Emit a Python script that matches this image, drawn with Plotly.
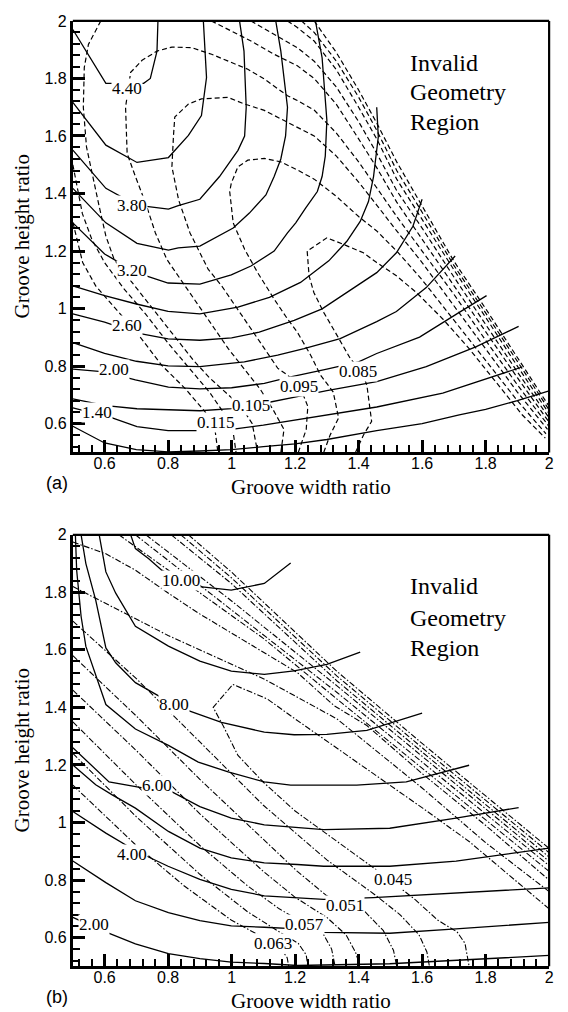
import plotly.graph_objects as go

# ---------------- Panel (a) data ----------------
a_solid_levels = ["4.40", "4.10", "3.80", "3.50", "3.20", "2.90", "2.60", "2.30", "2.00", "1.70", "1.40", "1.10"]
a_solid_x = [
    [0.5, 0.604, 0.723, 0.744, 0.765, 0.768],
    [0.5, 0.604, 0.702, 0.801, 0.864, 0.905, 0.921, 0.911],
    [0.5, 0.604, 0.70, 0.801, 0.832, 0.9, 0.962, 1.02, 1.041, 1.046, 1.039, 1.025],
    [0.5, 0.604, 0.702, 0.801, 0.832, 0.9, 1.005, 1.056, 1.108, 1.134, 1.155, 1.17, 1.176, 1.155, 1.139],
    [0.5, 0.6, 0.7, 0.8, 0.9, 0.999, 1.061, 1.134, 1.176, 1.202, 1.233, 1.27, 1.285, 1.295, 1.30, 1.285, 1.264],
    [0.5, 0.6, 0.7, 0.8, 0.9, 1.02, 1.119, 1.217, 1.306, 1.363, 1.405, 1.431, 1.447, 1.462, 1.457],
    [0.5, 0.6, 0.7, 0.8, 0.9, 1.0, 1.087, 1.197, 1.285, 1.373, 1.457, 1.519, 1.571, 1.60],
    [0.5, 0.6, 0.7, 0.8, 0.9, 1.04, 1.145, 1.228, 1.342, 1.457, 1.519, 1.613, 1.704],
    [0.5, 0.6, 0.697, 0.801, 0.9, 1.0, 1.103, 1.186, 1.30, 1.40, 1.457, 1.592, 1.717, 1.803],
    [0.5, 0.604, 0.702, 0.8, 0.9, 1.0, 1.103, 1.207, 1.30, 1.457, 1.613, 1.769, 1.904],
    [0.5, 0.624, 0.702, 0.8, 0.9, 1.0, 1.1, 1.2, 1.3, 1.457, 1.665, 1.915],
    [0.5, 0.6, 0.7, 0.8, 0.9, 1.0, 1.1, 1.2, 1.3, 1.457, 1.6, 1.717, 1.8, 1.9, 2.0],
]
a_solid_y = [
    [1.97, 1.783, 1.783, 1.80, 1.895, 2.0],
    [1.717, 1.568, 1.508, 1.525, 1.602, 1.671, 1.803, 2.0],
    [1.551, 1.418, 1.36, 1.346, 1.358, 1.38, 1.459, 1.55, 1.60, 1.70, 1.895, 2.0],
    [1.418, 1.298, 1.227, 1.203, 1.211, 1.217, 1.28, 1.332, 1.395, 1.459, 1.52, 1.60, 1.70, 1.895, 2.0],
    [1.298, 1.19, 1.125, 1.089, 1.085, 1.117, 1.148, 1.2, 1.263, 1.298, 1.349, 1.407, 1.459, 1.53, 1.655, 1.872, 2.0],
    [1.079, 1.045, 1.016, 0.99, 0.982, 1.005, 1.039, 1.091, 1.166, 1.234, 1.303, 1.372, 1.459, 1.597, 1.70],
    [0.982, 0.953, 0.916, 0.895, 0.89, 0.898, 0.918, 0.959, 0.999, 1.062, 1.125, 1.194, 1.286, 1.38],
    [0.882, 0.844, 0.817, 0.801, 0.798, 0.815, 0.838, 0.861, 0.896, 0.955, 0.99, 1.073, 1.183],
    [0.79, 0.78, 0.752, 0.727, 0.721, 0.725, 0.74, 0.763, 0.79, 0.815, 0.844, 0.901, 0.987, 1.045],
    [0.686, 0.663, 0.652, 0.648, 0.645, 0.652, 0.671, 0.694, 0.715, 0.746, 0.798, 0.867, 0.938],
    [0.655, 0.62, 0.59, 0.576, 0.576, 0.58, 0.595, 0.613, 0.63, 0.658, 0.706, 0.797],
    [0.591, 0.533, 0.51, 0.502, 0.505, 0.51, 0.52, 0.53, 0.545, 0.576, 0.60, 0.631, 0.65, 0.68, 0.714],
]
a_solid_label_text = ["4.40", "3.80", "3.20", "2.60", "2.00", "1.40"]
a_solid_label_x = [0.67, 0.686, 0.687, 0.67, 0.63, 0.575]
a_solid_label_y = [1.766, 1.359, 1.131, 0.941, 0.787, 0.638]

a_dash_levels = ["0.115", "0.110", "0.105", "0.105", "0.110", "0.115", "0.120", "0.125",
                 "0.100", "0.095", "0.090", "0.085"]
a_dash_x = [
    [0.5, 0.531, 0.572, 0.635, 0.708, 0.78, 0.853, 0.916, 0.947, 0.957],
    [0.5, 0.53, 0.56, 0.60, 0.66, 0.73, 0.80, 0.87, 0.93, 0.98, 1.005, 1.014],
    [0.588, 0.549, 0.536, 0.533, 0.543, 0.562, 0.583, 0.604, 0.63, 0.68, 0.73, 0.78, 0.83, 0.88, 0.93, 0.98, 1.03, 1.065, 1.082],
    [0.936, 0.999, 1.061, 1.134, 1.207, 1.26, 1.33, 1.40, 1.457, 1.52, 1.60, 1.70, 1.80, 1.90, 2.0],
    [1.061, 1.134, 1.207, 1.26, 1.33, 1.40, 1.457, 1.52, 1.60, 1.70, 1.80, 1.90, 2.0],
    [1.176, 1.207, 1.26, 1.33, 1.40, 1.457, 1.52, 1.60, 1.70, 1.80, 1.90, 2.0],
    [1.22, 1.26, 1.33, 1.40, 1.457, 1.52, 1.60, 1.70, 1.80, 1.90, 2.0],
    [1.26, 1.33, 1.40, 1.457, 1.52, 1.60, 1.70, 1.80, 1.90, 2.0],
    [1.155, 1.165, 1.13, 1.09, 1.04, 0.99, 0.94, 0.89, 0.84, 0.796, 0.76, 0.729, 0.697, 0.671, 0.666, 0.682, 0.718, 0.765,
     0.812, 0.874, 0.937, 0.999, 1.051, 1.103, 1.176, 1.207, 1.26, 1.33, 1.40, 1.457, 1.52, 1.60, 1.70, 1.80, 1.90, 2.0],
    [1.21, 1.235, 1.24, 1.215, 1.176, 1.145, 1.103, 1.061, 1.02, 0.968, 0.926, 0.895, 0.869, 0.833, 0.812, 0.817, 0.821,
     0.864, 0.905, 0.989, 1.041, 1.103, 1.166, 1.207, 1.26, 1.33, 1.40, 1.457, 1.52, 1.60, 1.70, 1.80, 1.90, 1.995],
    [1.29, 1.31, 1.337, 1.32, 1.28, 1.249, 1.207, 1.176, 1.134, 1.082, 1.041, 1.005, 0.994, 0.999, 1.02, 1.051, 1.103,
     1.155, 1.207, 1.26, 1.33, 1.40, 1.457, 1.52, 1.60, 1.70, 1.80, 1.90, 1.99],
    [1.39, 1.415, 1.441, 1.426, 1.41, 1.374, 1.332, 1.29, 1.259, 1.244, 1.238, 1.30, 1.353, 1.415, 1.457, 1.519, 1.582,
     1.665, 1.748, 1.832, 1.915, 1.988],
]
a_dash_y = [
    [1.30, 1.16, 1.079, 0.999, 0.907, 0.803, 0.723, 0.642, 0.585, 0.5],
    [1.50, 1.33, 1.24, 1.16, 1.07, 0.98, 0.88, 0.79, 0.71, 0.63, 0.57, 0.5],
    [2.0, 1.918, 1.838, 1.70, 1.562, 1.459, 1.355, 1.252, 1.171, 1.10, 1.03, 0.96, 0.89, 0.82, 0.76, 0.71, 0.66, 0.60, 0.5],
    [2.0, 1.965, 1.93, 1.884, 1.844, 1.80, 1.71, 1.59, 1.49, 1.37, 1.24, 1.08, 0.92, 0.76, 0.605],
    [2.0, 1.953, 1.907, 1.86, 1.77, 1.65, 1.54, 1.41, 1.28, 1.11, 0.945, 0.78, 0.62],
    [2.0, 1.977, 1.93, 1.83, 1.70, 1.59, 1.45, 1.31, 1.135, 0.97, 0.80, 0.635],
    [2.0, 1.96, 1.86, 1.735, 1.62, 1.48, 1.335, 1.15, 0.985, 0.815, 0.648],
    [2.0, 1.89, 1.76, 1.645, 1.51, 1.355, 1.165, 1.0, 0.83, 0.66],
    [0.5, 0.58, 0.65, 0.72, 0.79, 0.86, 0.94, 1.02, 1.10, 1.171, 1.263, 1.367, 1.459, 1.539, 1.70, 1.821, 1.863, 1.895,
     1.909, 1.907, 1.884, 1.855, 1.832, 1.798, 1.74, 1.723, 1.69, 1.61, 1.51, 1.42, 1.32, 1.20, 1.05, 0.89, 0.735, 0.59],
    [0.5, 0.58, 0.66, 0.73, 0.769, 0.793, 0.862, 0.93, 0.999, 1.08, 1.137, 1.206, 1.263, 1.378, 1.493, 1.602, 1.666,
     1.711, 1.729, 1.734, 1.711, 1.689, 1.654, 1.631, 1.60, 1.53, 1.44, 1.36, 1.27, 1.16, 1.01, 0.86, 0.71, 0.58],
    [0.5, 0.56, 0.62, 0.71, 0.769, 0.838, 0.918, 0.964, 1.033, 1.125, 1.206, 1.298, 1.407, 1.436, 1.493, 1.516, 1.522,
     1.51, 1.482, 1.45, 1.39, 1.32, 1.27, 1.20, 1.10, 0.96, 0.82, 0.68, 0.565],
    [0.5, 0.56, 0.608, 0.734, 0.78, 0.826, 0.907, 0.987, 1.056, 1.114, 1.2, 1.246, 1.223, 1.194, 1.16, 1.114, 1.056,
     0.964, 0.861, 0.746, 0.631, 0.55],
]
a_dash_label_text = ["0.115", "0.105", "0.095", "0.085"]
a_dash_label_x = [0.951, 1.061, 1.212, 1.397]
a_dash_label_y = [0.603, 0.663, 0.729, 0.78]

# ---------------- Panel (b) data ----------------
b_solid_levels = ["10.00", "9.00", "8.00", "7.00", "6.00", "5.00", "4.00", "3.00", "2.00"]
b_solid_x = [
    [0.682, 0.697, 0.739, 0.78, 0.84, 0.9, 0.999, 1.103, 1.186],
    [0.583, 0.604, 0.635, 0.697, 0.801, 0.9, 0.999, 1.103, 1.197, 1.30, 1.405],
    [0.526, 0.541, 0.572, 0.604, 0.635, 0.697, 0.77, 0.864, 0.968, 1.103, 1.197, 1.30, 1.426, 1.60],
    [0.508, 0.512, 0.526, 0.541, 0.604, 0.697, 0.801, 0.895, 0.989, 1.103, 1.186, 1.394, 1.55, 1.748],
    [0.5, 0.614, 0.72, 0.811, 0.9, 0.999, 1.103, 1.207, 1.29, 1.498, 1.707, 1.904],
    [0.5, 0.572, 0.624, 0.697, 0.801, 0.9, 0.999, 1.103, 1.207, 1.29, 1.498, 1.707, 2.0],
    [0.5, 0.604, 0.7, 0.8, 0.9, 0.999, 1.103, 1.207, 1.29, 1.446, 1.707, 2.0],
    [0.5, 0.604, 0.697, 0.801, 0.9, 0.999, 1.103, 1.207, 1.29, 1.498, 1.707, 2.0],
    [0.5, 0.593, 0.697, 0.801, 0.9, 0.999, 1.103, 1.207, 1.498, 1.707, 2.0],
]
b_solid_y = [
    [2.0, 1.952, 1.917, 1.877, 1.84, 1.82, 1.808, 1.831, 1.902],
    [2.0, 1.871, 1.797, 1.682, 1.613, 1.561, 1.526, 1.515, 1.527, 1.55, 1.592],
    [2.0, 1.90, 1.773, 1.607, 1.555, 1.486, 1.44, 1.389, 1.348, 1.314, 1.305, 1.306, 1.32, 1.38],
    [2.0, 1.877, 1.716, 1.612, 1.41, 1.325, 1.268, 1.21, 1.176, 1.141, 1.13, 1.13, 1.141, 1.199],
    [1.26, 1.141, 1.12, 1.107, 1.055, 1.015, 0.992, 0.983, 0.975, 0.98, 1.015, 1.052],
    [1.2, 1.131, 1.096, 1.05, 0.969, 0.911, 0.877, 0.86, 0.854, 0.848, 0.848, 0.866, 0.911],
    [1.038, 0.963, 0.90, 0.848, 0.802, 0.768, 0.745, 0.739, 0.733, 0.739, 0.756, 0.773],
    [0.866, 0.791, 0.728, 0.687, 0.659, 0.641, 0.636, 0.63, 0.618, 0.615, 0.63, 0.653],
    [0.67, 0.624, 0.578, 0.544, 0.527, 0.515, 0.51, 0.503, 0.509, 0.52, 0.538],
]
b_solid_label_text = ["10.00", "8.00", "6.00", "4.00", "2.00"]
b_solid_label_x = [0.84, 0.817, 0.764, 0.687, 0.567]
b_solid_label_y = [1.842, 1.411, 1.13, 0.889, 0.647]

b_dash_levels = ["0.045", "0.048", "0.051", "0.054", "0.057", "0.060", "0.063",
                 "0.048", "0.051", "0.054", "0.057", "0.060", "0.063", "0.066", "0.069"]
b_dash_x = [
    [2.0, 1.821, 1.748, 1.603, 1.467, 1.332, 1.20, 1.113, 1.004, 0.942, 0.973, 1.02, 1.10, 1.20, 1.30, 1.40, 1.50, 1.58, 1.65, 1.71, 1.735, 1.748],
    [0.5, 0.7, 0.9, 1.1, 1.3, 1.45, 1.53, 1.59, 1.615, 1.623],
    [0.5, 0.7, 0.9, 1.1, 1.207, 1.30, 1.42, 1.478, 1.51, 1.52],
    [0.5, 0.7, 0.9, 1.1, 1.2, 1.3, 1.36, 1.39, 1.405],
    [0.5, 0.7, 0.9, 1.05, 1.15, 1.23, 1.29, 1.315, 1.326],
    [0.5, 0.7, 0.9, 1.05, 1.15, 1.21, 1.235, 1.24],
    [0.5, 0.7, 0.85, 1.0, 1.10, 1.15, 1.175, 1.18],
    [0.5, 0.8, 1.1, 1.332, 1.6, 1.8, 2.0],
    [0.5, 0.604, 0.697, 0.801, 0.895, 0.999, 1.103, 1.207, 1.323, 1.426, 1.6, 1.8, 2.0],
    [0.645, 0.9, 1.1, 1.332, 1.6, 1.8, 2.0],
    [0.697, 1.0, 1.332, 1.6, 2.0],
    [0.73, 1.0, 1.332, 1.6, 2.0],
    [0.81, 1.0, 1.332, 1.6, 2.0],
    [0.84, 1.0, 1.332, 1.6, 2.0],
    [0.864, 1.0, 1.332, 1.6, 2.0],
]
b_dash_y = [
    [0.70, 0.866, 0.934, 1.049, 1.153, 1.256, 1.36, 1.429, 1.48, 1.40, 1.337, 1.233, 1.14, 1.04, 0.96, 0.88, 0.80, 0.73, 0.66, 0.62, 0.58, 0.5],
    [1.70, 1.50, 1.28, 1.06, 0.87, 0.75, 0.68, 0.61, 0.55, 0.5],
    [1.58, 1.37, 1.15, 0.94, 0.83, 0.745, 0.69, 0.624, 0.555, 0.5],
    [1.46, 1.25, 1.03, 0.83, 0.74, 0.67, 0.61, 0.55, 0.5],
    [1.35, 1.13, 0.92, 0.78, 0.70, 0.65, 0.61, 0.56, 0.5],
    [1.24, 1.02, 0.82, 0.69, 0.62, 0.58, 0.54, 0.5],
    [1.13, 0.92, 0.78, 0.66, 0.60, 0.57, 0.53, 0.5],
    [1.82, 1.65, 1.50, 1.36, 1.12, 0.93, 0.76],
    [1.975, 1.934, 1.877, 1.797, 1.728, 1.659, 1.59, 1.521, 1.406, 1.337, 1.17, 0.99, 0.80],
    [2.0, 1.80, 1.64, 1.429, 1.19, 1.01, 0.83],
    [2.0, 1.74, 1.452, 1.21, 0.85],
    [2.0, 1.77, 1.475, 1.23, 0.865],
    [2.0, 1.83, 1.492, 1.245, 0.88],
    [2.0, 1.85, 1.509, 1.26, 0.895],
    [2.0, 1.87, 1.525, 1.275, 0.91],
]
b_dash_label_text = ["0.063", "0.057", "0.051", "0.045"]
b_dash_label_x = [1.129, 1.228, 1.358, 1.509]
b_dash_label_y = [0.578, 0.647, 0.71, 0.802]

x_tickvals = [0.6, 0.8, 1.0, 1.2, 1.4, 1.6, 1.8, 2.0]
x_ticktext = ["0.6", "0.8", "1", "1.2", "1.4", "1.6", "1.8", "2"]
y_tickvals = [0.6, 0.8, 1.0, 1.2, 1.4, 1.6, 1.8, 2.0]
y_ticktext = ["0.6", "0.8", "1", "1.2", "1.4", "1.6", "1.8", "2"]

# ---------------- Figure ----------------
fig = go.Figure()

SOLID = dict(color="black", width=1.3)
DASH = dict(color="black", width=1.2, dash="5px,3px")
DASHDOT = dict(color="black", width=1.1, dash="6px,2px,1.5px,2px")


def add_lines(xs_list, ys_list, names, line, xa, ya):
    for xs, ys, nm in zip(xs_list, ys_list, names):
        fig.add_trace(go.Scatter(x=xs, y=ys, mode="lines", line=line, name=nm,
                                 xaxis=xa, yaxis=ya, showlegend=False, hoverinfo="skip"))


add_lines(a_dash_x, a_dash_y, a_dash_levels, DASH, "x", "y")
add_lines(a_solid_x, a_solid_y, a_solid_levels, SOLID, "x", "y")
add_lines(b_dash_x, b_dash_y, b_dash_levels, DASHDOT, "x2", "y2")
add_lines(b_solid_x, b_solid_y, b_solid_levels, SOLID, "x2", "y2")

SERIF = "Liberation Serif"
SANS = "Liberation Sans"

annotations = []


def add_labels(texts, xs, ys, xref, yref):
    for t, x, y in zip(texts, xs, ys):
        annotations.append(dict(text=t, x=x, y=y, xref=xref, yref=yref, showarrow=False,
                                font=dict(family=SERIF, size=17, color="black"),
                                bgcolor="white", borderpad=0, xanchor="center", yanchor="middle"))


add_labels(a_solid_label_text, a_solid_label_x, a_solid_label_y, "x", "y")
add_labels(a_dash_label_text, a_dash_label_x, a_dash_label_y, "x", "y")
add_labels(b_solid_label_text, b_solid_label_x, b_solid_label_y, "x2", "y2")
add_labels(b_dash_label_text, b_dash_label_x, b_dash_label_y, "x2", "y2")

for xr, yr, tag, inv_y in [("x", "y", "(a)", [1.855, 1.752, 1.648]),
                           ("x2", "y2", "(b)", [1.821, 1.712, 1.607])]:
    for word, yy in zip(["Invalid", "Geometry", "Region"], inv_y):
        annotations.append(dict(text=word, x=1.557, y=yy, xref=xr, yref=yr, showarrow=False,
                                xanchor="left", yanchor="middle",
                                font=dict(family=SERIF, size=24, color="black")))
    annotations.append(dict(text="Groove width ratio", x=0.5, y=0, xref=xr + " domain", yref=yr + " domain",
                            yshift=-35, showarrow=False, xanchor="center", yanchor="middle",
                            font=dict(family=SERIF, size=21, color="black")))
    annotations.append(dict(text="Groove height ratio", x=0, y=0.5, xref=xr + " domain", yref=yr + " domain",
                            xshift=-51, showarrow=False, xanchor="center", yanchor="middle", textangle=-90,
                            font=dict(family=SERIF, size=21, color="black")))
    annotations.append(dict(text=tag, x=0, y=0, xref=xr + " domain", yref=yr + " domain",
                            xshift=-16, yshift=-31, showarrow=False, xanchor="center", yanchor="middle",
                            font=dict(family=SANS, size=18, color="black")))

shapes = []
for xr, yr in [("x", "y"), ("x2", "y2")]:
    shapes.append(dict(type="line", xref=xr + " domain", yref=yr + " domain", x0=0, x1=1, y0=1, y1=1,
                       line=dict(color="black", width=2.2)))
    shapes.append(dict(type="line", xref=xr + " domain", yref=yr + " domain", x0=1, x1=1, y0=0, y1=1,
                       line=dict(color="black", width=2.2)))


def axis(domain, tv, tt, anchor, standoff):
    return dict(domain=domain, range=[0.5, 2.0], anchor=anchor, showline=True, linewidth=3, linecolor="black",
                ticks="inside", ticklen=12, tickwidth=2.5, tickcolor="black",
                tickmode="array", tickvals=tv, ticktext=tt, ticklabelstandoff=standoff,
                tickfont=dict(family=SANS, size=16, color="black"),
                minor=dict(ticks="inside", ticklen=7, tickwidth=1.5, tickcolor="black", dtick=0.04, tick0=0,
                           showgrid=False),
                showgrid=False, zeroline=False, mirror=False)


xd = [73.5 / 568, 554 / 568]
fig.update_layout(
    width=568, height=1012, margin=dict(l=0, r=0, t=0, b=0),
    paper_bgcolor="white", plot_bgcolor="white", showlegend=False,
    font=dict(family=SERIF, color="black"),
    xaxis=axis(xd, x_tickvals, x_ticktext, "y", -6),
    yaxis=axis([1 - 448 / 1012, 1 - 13 / 1012], y_tickvals, y_ticktext, "x", 0),
    xaxis2=axis(xd, x_tickvals, x_ticktext, "y2", -6),
    yaxis2=axis([1 - 966 / 1012, 1 - 531 / 1012], y_tickvals, y_ticktext, "x2", 0),
    annotations=annotations, shapes=shapes,
)

fig.write_html("out.html")
